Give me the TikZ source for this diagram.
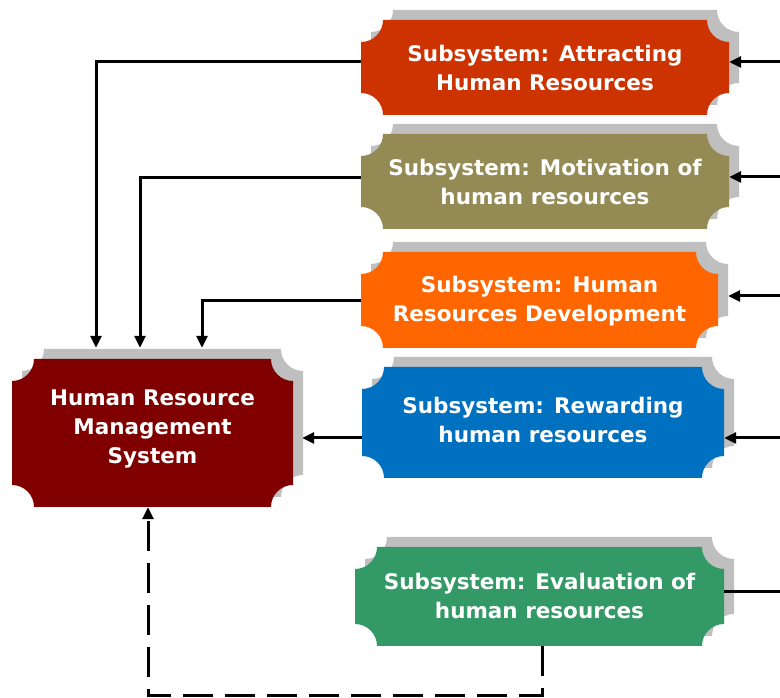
\documentclass[tikz,border=0pt]{standalone}
\usepackage{fontspec}
\setmainfont{DejaVu Sans}
\usetikzlibrary{arrows.meta,calc}
\definecolor{shadowc}{HTML}{BFBFBF}
\definecolor{attrc}{HTML}{CC3300}
\definecolor{motivc}{HTML}{948A54}
\definecolor{devc}{HTML}{FF6600}
\definecolor{rewc}{HTML}{0070C0}
\definecolor{evalc}{HTML}{339966}
\definecolor{hrmc}{HTML}{800000}
% concave-corner box fill, y-up coordinates: x1 Ytop x2 Ybot radius colour
\newcommand{\scfill}[6]{%
  \fill[#6] ({#1+#5},{#2}) -- ({#3-#5},{#2})
    arc[start angle=180,end angle=270,radius=#5pt] -- ({#3},{#4+#5})
    arc[start angle=90,end angle=180,radius=#5pt] -- ({#1+#5},{#4})
    arc[start angle=0,end angle=90,radius=#5pt] -- ({#1},{#2-#5})
    arc[start angle=270,end angle=360,radius=#5pt] -- cycle;}
% name, x1, ytop, x2, ybot (image px, y down), colour, text raise, text
\newcommand{\scbox}[8]{%
  \scfill{#2+10}{708-#3}{#4+10}{708-#5}{22}{shadowc}
  \scfill{#2}{698-#3}{#4}{698-#5}{22}{#6}
  \node[boxtext, minimum width={(#4-#2)*1pt}, minimum height={(#5-#3)*1pt}]
    (#1) at ({(#2+#4)/2},{698-(#3+#5)/2})
    {\raisebox{#7pt}[\height][\depth]{\begin{tabular}{@{}c@{}}#8\end{tabular}}};}
\tikzset{
  boxtext/.style={inner sep=0pt, text=white, font=\fontsize{21.5}{29}\selectfont\bfseries},
  conn/.style={line width=3pt, -{Triangle[length=12pt,width=11pt]}},
  plainconn/.style={line width=3pt},
  dconn/.style={line width=3pt, dash pattern=on 30pt off 12pt, -{Triangle[length=12pt,width=11pt]}}
}
\begin{document}
\begin{tikzpicture}[x=1pt,y=1pt]
\useasboundingbox (0,0) rectangle (780,698);
\scbox{attr}{361}{20}{729}{115}{attrc}{-2.5}{Subsystem: Attracting\\Human Resources}
\scbox{motiv}{361}{134}{729}{229}{motivc}{-2.5}{Subsystem: Motivation of\\human resources}
\scbox{dev}{361}{252}{718}{348}{devc}{-1.5}{Subsystem: Human\\Resources Development}
\scbox{rew}{362}{367}{724}{478}{rewc}{0.5}{Subsystem: Rewarding\\human resources}
\scbox{eval}{355}{547}{724}{646}{evalc}{-1.5}{Subsystem: Evaluation of\\human resources}
\scbox{hrm}{12}{359}{293}{507}{hrmc}{4}{Human Resource\\Management\\System}
% left connectors into the HRM system
\draw[conn] ([yshift=5.5pt]attr.west) -| ([xshift=-56.5pt,yshift=11pt]hrm.north);
\draw[conn] ([yshift=3.5pt]motiv.west) -| ([xshift=-12.5pt,yshift=11pt]hrm.north);
\draw[conn] ([yshift=-1pt]dev.west) -| ([xshift=49.5pt,yshift=11pt]hrm.north);
\coordinate (r1) at ([yshift=-15.5pt]rew.west);
\coordinate (hrmr) at ([xshift=9pt]hrm.east);
\draw[conn] (r1) -- (r1 -| hrmr);
% right-hand inputs
\coordinate (ea) at (780,636);
\coordinate (em) at (780,521);
\coordinate (ed) at (780,402);
\coordinate (er) at (780,260);
\coordinate (ee) at (780,106);
\coordinate (devr) at ([xshift=10pt]dev.east);
\draw[conn] (ea) -- (ea -| attr.east);
\draw[conn] (em) -- (em -| motiv.east);
\draw[conn] (ed) -- (ed -| devr);
\draw[conn] (er) -- (er -| rew.east);
\draw[plainconn] (ee) -- (ee -| eval.east);
% dashed feedback
\coordinate (dc) at (542,2.5);
\draw[dconn] ([xshift=2.5pt]eval.south) -- (dc) -| ([xshift=-4.5pt]hrm.south);
\end{tikzpicture}
\end{document}
